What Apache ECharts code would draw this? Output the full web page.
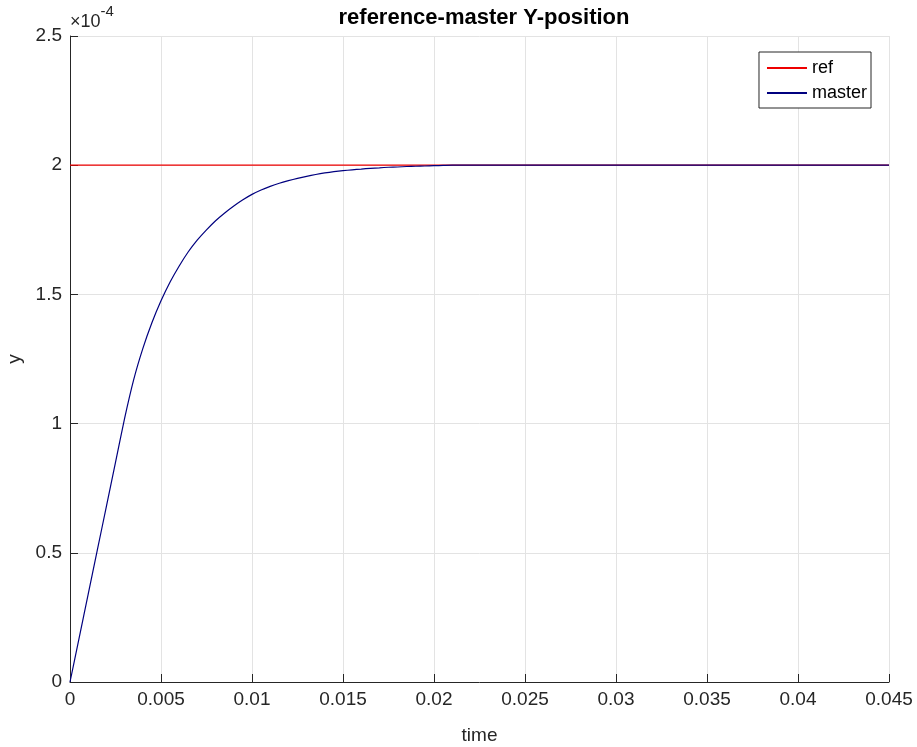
<!DOCTYPE html>
<html>
<head>
<meta charset="utf-8">
<script src="https://cdn.jsdelivr.net/npm/echarts@6/dist/echarts.min.js"></script>
<style>
html,body{margin:0;padding:0;background:#fff;}
#chart{width:917px;height:747px;}
</style>
</head>
<body>
<div id="chart"></div>
<script>
// time samples (s)
var timeValues = [0, 0.0005, 0.001, 0.0015, 0.002, 0.0025, 0.003, 0.0035, 0.004, 0.0045, 0.005, 0.0055, 0.006, 0.0065, 0.007, 0.0075, 0.008, 0.0085, 0.009, 0.0095, 0.01, 0.0105, 0.011, 0.0115, 0.012, 0.0125, 0.013, 0.0135, 0.014, 0.0145, 0.015, 0.0155, 0.016, 0.0165, 0.017, 0.0175, 0.018, 0.0185, 0.019, 0.0195, 0.02, 0.0205, 0.021, 0.045];
// master Y-position (x1e-4 m)
var masterValues = [0, 0.17, 0.34, 0.51, 0.68, 0.85, 1.02, 1.17, 1.29, 1.39, 1.475, 1.548, 1.61, 1.665, 1.711, 1.75, 1.785, 1.815, 1.842, 1.866, 1.887, 1.904, 1.918, 1.93, 1.94, 1.949, 1.957, 1.964, 1.970, 1.975, 1.979, 1.982, 1.985, 1.988, 1.990, 1.992, 1.993, 1.995, 1.996, 1.997, 1.998, 1.999, 2.0, 2.0];
// reference Y-position (x1e-4 m)
var refTime = [0, 0.045];
var refValues = [2, 2];
var yScale = 1e-4;
var seriesNames = ['ref', 'master'];
var titleText = 'reference-master Y-position';
var xName = 'time';
var yName = 'y';

var FONT = '"Liberation Sans", Arial, sans-serif';
var chart = echarts.init(document.getElementById('chart'), null, {renderer: 'canvas'});

function pairs(xs, ys) { return xs.map(function (x, i) { return [x, ys[i] * yScale]; }); }

chart.setOption({
  backgroundColor: '#ffffff',
  animation: false,
  title: {
    text: titleText,
    left: 479, textAlign: 'center', top: 2,
    textStyle: {fontFamily: FONT, fontSize: 22, fontWeight: 'bold', color: '#000'}
  },
  grid: {left: 70, right: 28, top: 36, bottom: 65, containLabel: false, outerBoundsMode: 'none'},
  legend: {
    data: seriesNames,
    orient: 'vertical',
    right: 46, top: 52,
    itemWidth: 40, itemHeight: 14, itemGap: 7,
    padding: [7, 4, 6, 7],
    itemStyle: {opacity: 0},
    borderColor: '#262626', borderWidth: 1,
    backgroundColor: '#ffffff',
    textStyle: {fontFamily: FONT, fontSize: 18, color: '#000'}
  },
  xAxis: {
    type: 'value', min: 0, max: 0.045, interval: 0.005,
    name: xName, nameLocation: 'middle', nameGap: 44,
    nameTextStyle: {fontFamily: FONT, fontSize: 19, color: '#262626'},
    axisLine: {show: true, onZero: false, lineStyle: {color: '#262626', width: 1}},
    axisTick: {show: true, inside: true, length: 8, lineStyle: {color: '#262626'}},
    axisLabel: {fontFamily: FONT, fontSize: 19, color: '#262626', margin: 8,
      formatter: function (v) { return String(+v.toFixed(3)); }},
    splitLine: {show: true, lineStyle: {color: '#e3e3e3', width: 1}}
  },
  yAxis: {
    type: 'value', min: 0, max: 2.5e-4, interval: 0.5e-4,
    name: yName, nameLocation: 'middle', nameGap: 40, nameRotate: 90,
    nameTextStyle: {fontFamily: FONT, fontSize: 19, color: '#262626'},
    axisLine: {show: true, onZero: false, lineStyle: {color: '#262626', width: 1}},
    axisTick: {show: true, inside: true, length: 8, lineStyle: {color: '#262626'}},
    axisLabel: {fontFamily: FONT, fontSize: 19, color: '#262626', margin: 8,
      formatter: function (v) { return String(+(v * 1e4).toFixed(1)); }},
    splitLine: {show: true, lineStyle: {color: '#e3e3e3', width: 1}}
  },
  graphic: [{
    type: 'text', left: 70, top: 4,
    style: {
      text: '{a|×10}{b|-4}',
      rich: {
        a: {fontFamily: FONT, fontSize: 18, fill: '#262626', padding: [9, 0, 0, 0]},
        b: {fontFamily: FONT, fontSize: 15, fill: '#262626', verticalAlign: 'top'}
      }
    }
  }],
  series: [
    {name: seriesNames[0], type: 'line', data: pairs(refTime, refValues), symbol: 'none',
      lineStyle: {color: '#ee0000', width: 1.2}, itemStyle: {color: '#ee0000'}},
    {name: seriesNames[1], type: 'line', data: pairs(timeValues, masterValues), symbol: 'none', smooth: 0.2,
      lineStyle: {color: '#00007f', width: 1.2}, itemStyle: {color: '#00007f'}}
  ]
});
</script>
</body>
</html>
